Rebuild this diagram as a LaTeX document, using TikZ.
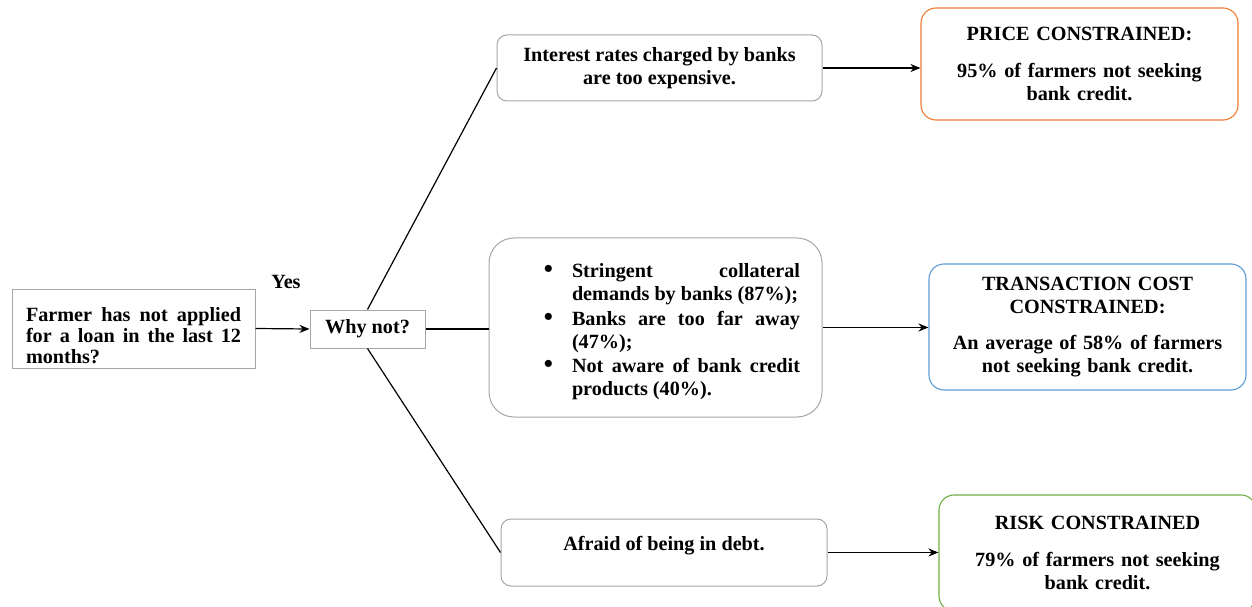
\documentclass[tikz,border=0pt]{standalone}
\usepackage{fontspec}
\setmainfont{Liberation Serif}
\usepackage{enumitem}
\usetikzlibrary{arrows.meta}
\hyphenpenalty=10000
\tolerance=10000
\definecolor{boxgray}{HTML}{A6A6A6}
\definecolor{priceorange}{HTML}{ED7D31}
\definecolor{costblue}{HTML}{5B9BD5}
\definecolor{riskgreen}{HTML}{70AD47}
\tikzstyle{rect} = [rectangle, draw=boxgray, line width=1pt, inner sep=0pt]
\tikzstyle{rrect} = [rect, rounded corners=10pt, align=center]
\tikzstyle{result} = [rectangle, rounded corners=15pt, line width=1.1pt, inner sep=0pt, minimum width=317pt, text width=300pt, align=center]
\tikzstyle{blank} = [rectangle]
\tikzstyle{arrow} = [-{Stealth[length=10pt, width=8pt]}, line width=1.2pt]
\tikzstyle{line} = [line width=1.2pt]

\begin{document}
\begin{tikzpicture}[x=1pt, y=1pt, font=\fontsize{20.2}{23}\selectfont\bfseries]
    \clip (0,0) rectangle (1252,606);
    \node (farmer) [rect, minimum width=243pt, minimum height=79pt, text width=215pt, align=justify, text height=29pt, font=\fontsize{20.2}{21}\selectfont\bfseries] at (133.5,277.5) {Farmer has not applied for a loan in the last 12 months?};
    \node (why) [rect, minimum width=115pt, minimum height=38pt] at (367.5,277) {Why not?};
    \node (yes) [blank] at (286,324) {Yes};
    \node (rates) [rrect, minimum width=325pt, minimum height=66pt] at (659.5,538) {Interest rates charged by banks\\ are too expensive.};
    \node (collat) [rect, rounded corners=25pt, minimum width=333pt, minimum height=179pt, text width=311pt, align=justify] at (655.5,278.5) {%
        \begin{itemize}[label={\fontsize{26}{26}\selectfont\textbullet}, leftmargin=72pt, rightmargin=11pt, labelsep=19pt, itemsep=1.5pt, topsep=0pt, partopsep=0pt, parsep=0pt]
            \item Stringent collateral demands by banks (87\%);
            \item Banks are too far away (47\%);
            \item Not aware of bank credit products (40\%).
        \end{itemize}};
    \node (debt) [rrect, minimum width=326pt, minimum height=67pt, text depth=19pt] at (664,53.5) {Afraid of being in debt.};
    \node (price) [result, draw=priceorange, minimum height=112pt] at (1079.5,542) {PRICE CONSTRAINED:\\[14pt] 95\% of farmers not seeking\\ bank credit.};
    \node (cost) [result, draw=costblue, minimum height=126pt] at (1087.5,279) {TRANSACTION COST\\ CONSTRAINED:\\[13pt] An average of 58\% of farmers\\ not seeking bank credit.};
    \node (risk) [result, draw=riskgreen, minimum height=116pt] at (1097.5,53) {RISK CONSTRAINED\\[14pt] 79\% of farmers not seeking\\ bank credit.};
    \draw [arrow] (farmer.east) -- (why.west);
    \draw [line] (why.north) -- (rates.west);
    \draw [line] (why.east) -- (why.east -| collat.west);
    \draw [line] (why.south) -- (debt.west);
    \draw [arrow] (rates.east) -- (rates.east -| price.west);
    \draw [arrow] (collat.east) -- (collat.east -| cost.west);
    \draw [arrow] (debt.east) -- (debt.east -| risk.west);
\end{tikzpicture}
\end{document}
